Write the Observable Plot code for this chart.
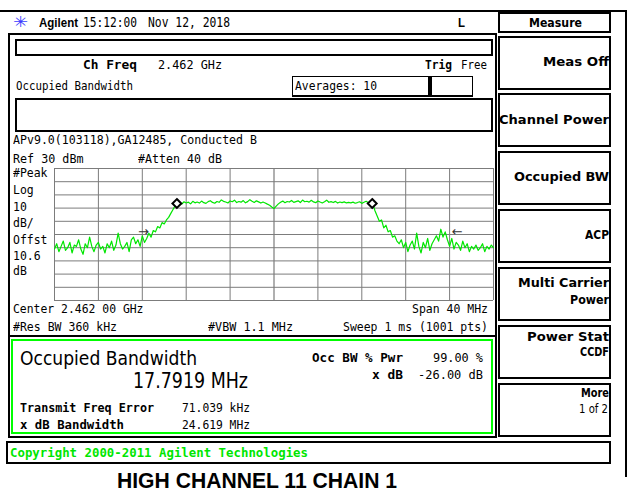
<!DOCTYPE html>
<html><head><meta charset="utf-8">
<script src="https://cdn.jsdelivr.net/npm/d3@7"></script>
<script src="https://cdn.jsdelivr.net/npm/@observablehq/plot@0.6"></script>
<style>
html,body{margin:0;padding:0;background:#fff;}
#root{position:relative;width:629px;height:496px;overflow:hidden;background:#fff;}
.bx{position:absolute;box-sizing:border-box;}
.t{position:absolute;white-space:pre;transform-origin:0 0;}
#plot{position:absolute;left:44px;top:158px;}
</style></head><body><div id="root"><div id="plot"></div></div>
<script>
const sweepStartMHz = 2442;   // Center 2.462 GHz, Span 40 MHz
const sweepStepMHz = 0.2;
const traceLevels = [
  -31, -27, -33, -29, -25, -32, -30, -26, -34, -28,
  -29, -24, -31, -35, -27, -30, -22, -29, -33, -28,
  -26, -31, -29, -34, -27, -30, -25, -32, -28, -19,
  -27, -31, -29, -26, -33, -24,
  -22, -27, -24, -29, -21, -26, -23, -19, -22, -17,
  -18, -14, -15, -11, -12, -9, -7, -4, -1, 2,
  3.5, 4.2, 3.1, 4.8, 3.9, 4.5, 3.2, 5.1, 4.0, 4.6,
  3.8, 5.3, 4.1, 3.6, 4.9, 5.6, 4.3, 3.7, 5.0, 4.4,
  6.2, 5.1, 4.6, 3.9, 5.4, 4.8, 6.0, 4.2, 5.0, 4.5,
  5.7, 4.0, 4.9, 6.4, 5.2, 4.3, 5.5, 4.7, 3.8, 4.6,
  3.9, 3.0, 2.2, 0.8, -0.4, 1.5, 3.2, 4.4, 5.3, 4.1,
  5.0, 4.6, 5.8, 4.3, 4.9, 5.5, 4.2, 6.1, 4.8, 5.2,
  4.5, 5.9, 4.7, 4.1, 5.4, 4.6, 3.9, 4.8, 6.0, 4.4,
  4.9, 4.2, 5.1, 3.8, 4.6, 4.1, 4.7, 3.9, 4.3, 4.0,
  4.5, 3.7, 4.2, 4.8, 3.6, 4.4, 5.2, 4.0, 3.9, 3.4,
  -2, -6, -10, -9, -15, -13, -18, -17, -22, -21, -25, -27,
  -24, -30, -26, -33, -28, -25, -31, -19, -29, -34,
  -26, -30, -23, -32, -27, -24, -21, -25, -16, -22,
  -18, -24, -29, -23, -31, -26, -28, -32, -25, -30,
  -27, -33, -29, -31, -28, -32, -30, -27, -33, -29,
  -31, -28, -30
];
const xGridMHz = [2442, 2446, 2450, 2454, 2458, 2462, 2466, 2470, 2474, 2478, 2482];
const yGridDbm = [30, 20, 10, 0, -10, -20, -30, -40, -50, -60, -70];
const centerMHz = [2462];
const obwEdgeMHz = [2453.15, 2470.95];
const obwEdgeDbm = [3.5, 3.5];
const xdbArrowMHz = [2450.1, 2478.7];
const xdbArrowDbm = [-18, -18];
const xdbArrowGlyph = ["→", "←"];

// ---- layout helpers ----
const root = document.getElementById("root");
const MONO = "'DejaVu Sans Mono', monospace";
const SANS = "'DejaVu Sans', sans-serif";
const ARIAL = "'Liberation Sans', Arial, sans-serif";
function box(x0, y0, x1, y1, css) {
  const d = document.createElement("div");
  d.className = "bx";
  d.style.cssText = `left:${x0}px;top:${y0}px;width:${x1 - x0}px;height:${y1 - y0}px;` + css;
  root.appendChild(d);
}
function T(s, x0, x1, cy, o = {}) {
  const size = o.size || 11.5;
  const d = document.createElement("div");
  d.className = "t";
  d.textContent = s;
  d.style.fontFamily = o.family || MONO;
  d.style.fontSize = size + "px";
  d.style.lineHeight = size + "px";
  d.style.fontWeight = o.bold ? "bold" : "normal";
  d.style.color = o.color || "#000";
  root.appendChild(d);
  const w = d.getBoundingClientRect().width;
  d.style.left = x0 + "px";
  d.style.top = (cy - 0.48 * size) + "px";
  d.style.transform = `scaleX(${(x1 - x0) / w})`;
}

// outer frame
box(0, 10, 627, 11.5, "background:#000;");
box(625, 10, 627, 477, "background:#000;");

// header
T("✳", 13, 28, 22, {family: SANS, size: 15, color: "#3b3bff"});
T("Agilent", 39, 78, 22, {family: ARIAL, bold: true, size: 13.5});
T("15:12:00", 83, 137, 22, {size: 13.5});
T("Nov 12, 2018", 148, 230, 22, {size: 13.5});
T("L", 458, 465, 22, {family: ARIAL, bold: true, size: 13.5});

// upper panel
box(8, 33, 497, 337, "border:2px solid #000;");
box(15, 39, 493, 56, "border:2px solid #000;");
T("Ch Freq", 83, 137, 65, {bold: true, size: 12.5});
T("2.462 GHz", 158, 222, 65, {size: 12.5});
T("Trig", 425, 452, 65, {bold: true, size: 12.5});
T("Free", 461, 487, 65, {size: 12.5});
T("Occupied Bandwidth", 16, 133, 87, {size: 11.5});
box(292, 76, 429, 97, "border:1px solid #000;border-bottom-width:2px;");
box(428, 76, 473, 97, "border:1px solid #000;border-left:4px solid #000;border-bottom-width:2px;");
T("Averages: 10", 295, 377, 87, {size: 11.5});
box(15, 98, 493, 132, "border:2px solid #000;");
T("APv9.0(103118),GA12485, Conducted B", 12.5, 256.5, 141, {size: 11.5});
T("Ref 30 dBm", 12.5, 83, 160, {size: 11.5});
T("#Atten 40 dB", 138, 222, 160, {size: 11.5});
const sideLabels = ["#Peak", "Log", "10", "dB/", "Offst", "10.6", "dB"];
const sideY = [174, 190.7, 207.7, 224, 241, 256.7, 271.7];
sideLabels.forEach((s, i) => T(s, 12.5, 12.5 + 6.9 * s.length, sideY[i], {size: 11.5}));
T("Center 2.462 00 GHz", 12.5, 143, 310, {size: 11.5});
T("Span 40 MHz", 412, 488, 310, {size: 11.5});
T("#Res BW 360 kHz", 12.5, 116.5, 327.5, {size: 11.5});
T("#VBW 1.1 MHz", 208, 293, 327.5, {size: 11.5});
T("Sweep 1 ms (1001 pts)", 343, 488, 327.5, {size: 11.5});

// lower (result) panel
box(8, 335, 497, 438, "border:2px solid #000;");
box(11, 339, 493, 434, "border:2px solid #00ff00;");
T("Occupied Bandwidth", 20, 197, 357.5, {family: SANS, size: 20});
T("17.7919 MHz", 133, 248, 381, {family: SANS, size: 21});
T("Occ BW % Pwr", 312, 403, 359, {bold: true, size: 11.5});
T("99.00 %", 433, 483, 359, {size: 11.5});
T("x dB", 372, 403, 376, {bold: true, size: 11.5});
T("-26.00 dB", 418, 483, 376, {size: 11.5});
T("Transmit Freq Error", 20, 154, 408, {bold: true, size: 12.5});
T("71.039 kHz", 182, 250, 408, {size: 12});
T("x dB Bandwidth", 20, 124, 424.5, {bold: true, size: 12.5});
T("24.619 MHz", 182, 250, 424.5, {size: 12});

// copyright
box(6, 441, 611, 464, "border:2px solid #000;");
T("Copyright 2000-2011 Agilent Technologies", 10, 308, 452.5, {bold: true, size: 12.5, color: "#00e600"});

// soft keys
box(498, 12, 611, 33, "border:2px solid #000;");
T("Measure", 529, 582, 22.7, {family: SANS, bold: true, size: 12.5});
const keyTops = [36, 93, 151, 209, 267, 325, 383];
keyTops.forEach(t => box(498, t, 611, t + 54, "border:2px solid #000;border-right-width:2.5px;border-bottom-width:2.5px;"));
const K = {family: SANS, bold: true, size: 12.5};
T("Meas Off", 543, 609, 61.7, K);
T("Channel Power", 499, 609, 120, K);
T("Occupied BW", 514, 609, 176.7, K);
T("ACP", 585, 609, 235, K);
T("Multi Carrier", 518, 609, 283.3, K);
T("Power", 570, 609, 300, K);
T("Power Stat", 527, 609, 337, K);
T("CCDF", 580, 609, 351.5, K);
T("More", 581, 609, 393, K);
T("1 of 2", 579, 608, 410, {family: SANS, size: 11.5});

// title below screenshot
T("HIGH CHANNEL 11 CHAIN 1", 117, 397, 481, {family: ARIAL, bold: true, size: 22});

// ---- the trace, drawn with Plot ----
const trace = traceLevels.map((v, i) => ({f: sweepStartMHz + i * sweepStepMHz, dbm: v}));
const obw = obwEdgeMHz.map((f, i) => ({f, dbm: obwEdgeDbm[i]}));
const arrows = xdbArrowMHz.map((f, i) => ({f, dbm: xdbArrowDbm[i], g: xdbArrowGlyph[i]}));

const chart = Plot.plot({
  width: 459,
  height: 152,
  margin: 10,
  style: {background: "transparent", overflow: "visible"},
  x: {domain: [2442, 2482], axis: null},
  y: {domain: [-70, 30], axis: null},
  marks: [
    Plot.ruleX(xGridMHz, {stroke: "#7c7c7c", strokeWidth: 1}),
    Plot.ruleX(centerMHz, {stroke: "#b0b0b0", strokeWidth: 2}),
    Plot.ruleY(yGridDbm, {stroke: "#7c7c7c", strokeWidth: 1}),
    Plot.line(trace, {x: "f", y: "dbm", stroke: "#00e600", strokeWidth: 1.2}),
    Plot.text(arrows, {x: "f", y: "dbm", text: "g", fontSize: 13, fill: "#333", fontFamily: SANS}),
    Plot.dot(obw, {x: "f", y: "dbm", symbol: "diamond2", r: 4, stroke: "#000", fill: "#fff", strokeWidth: 2})
  ]
});
document.getElementById("plot").appendChild(chart);
</script></body></html>
